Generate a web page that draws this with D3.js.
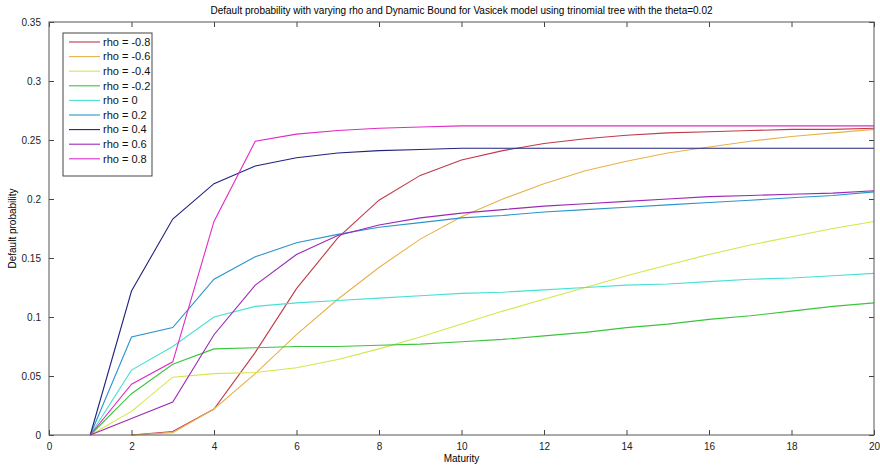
<!DOCTYPE html>
<html>
<head>
<meta charset="utf-8">
<script src="https://cdn.jsdelivr.net/npm/d3@7"></script>
<style>
  body { margin: 0; background: #fff; }
  text { font-family: "Liberation Sans", Arial, sans-serif; }
</style>
</head>
<body>
<script>
// ---- data ----
var maturity = d3.range(1, 21);
var rhoLabels = ["rho = -0.8", "rho = -0.6", "rho = -0.4", "rho = -0.2", "rho = 0",
                 "rho = 0.2", "rho = 0.4", "rho = 0.6", "rho = 0.8"];
var colors = ["#c03a48", "#e8b24a", "#d4e64a", "#3cc43c", "#48e0d4",
              "#2a94cc", "#22227e", "#9a2ab4", "#de2cc4"];

var rhoM08 = [null, 0, 0.003, 0.022, 0.070, 0.124, 0.167, 0.199, 0.220, 0.233, 0.241, 0.247, 0.251, 0.254, 0.256, 0.257, 0.258, 0.259, 0.259, 0.260];
var rhoM06 = [null, 0, 0.002, 0.022, 0.052, 0.085, 0.115, 0.142, 0.166, 0.185, 0.200, 0.213, 0.224, 0.232, 0.239, 0.244, 0.249, 0.253, 0.256, 0.259];
var rhoM04 = [0, 0.020, 0.049, 0.052, 0.053, 0.057, 0.064, 0.073, 0.083, 0.094, 0.105, 0.115, 0.125, 0.135, 0.144, 0.153, 0.161, 0.168, 0.175, 0.181];
var rhoM02 = [0, 0.035, 0.060, 0.073, 0.074, 0.075, 0.075, 0.076, 0.077, 0.079, 0.081, 0.084, 0.087, 0.091, 0.094, 0.098, 0.101, 0.105, 0.109, 0.112];
var rho0   = [0, 0.055, 0.075, 0.100, 0.109, 0.112, 0.114, 0.116, 0.118, 0.120, 0.121, 0.123, 0.125, 0.127, 0.128, 0.130, 0.132, 0.133, 0.135, 0.137];
var rhoP02 = [0, 0.083, 0.091, 0.132, 0.151, 0.163, 0.170, 0.176, 0.180, 0.184, 0.186, 0.189, 0.191, 0.193, 0.195, 0.197, 0.199, 0.201, 0.203, 0.206];
var rhoP04 = [0, 0.122, 0.183, 0.213, 0.228, 0.235, 0.239, 0.241, 0.242, 0.243, 0.243, 0.243, 0.243, 0.243, 0.243, 0.243, 0.243, 0.243, 0.243, 0.243];
var rhoP06 = [0, 0.014, 0.028, 0.085, 0.127, 0.153, 0.169, 0.178, 0.184, 0.188, 0.191, 0.194, 0.196, 0.198, 0.200, 0.202, 0.203, 0.204, 0.205, 0.207];
var rhoP08 = [0, 0.043, 0.062, 0.181, 0.249, 0.255, 0.258, 0.260, 0.261, 0.262, 0.262, 0.262, 0.262, 0.262, 0.262, 0.262, 0.262, 0.262, 0.262, 0.262];

var series = [rhoM08, rhoM06, rhoM04, rhoM02, rho0, rhoP02, rhoP04, rhoP06, rhoP08];
var xTicks = d3.range(0, 21, 2);
var yTicks = [0, 0.05, 0.1, 0.15, 0.2, 0.25, 0.3, 0.35];

// ---- layout ----
var margin = {top: 22, right: 6, bottom: 33, left: 49},
    width = 880 - margin.left - margin.right,
    height = 468 - margin.top - margin.bottom;

var svg = d3.select("body").append("svg")
    .attr("width", 880)
    .attr("height", 468);

var g = svg.append("g")
    .attr("transform", "translate(" + margin.left + "," + margin.top + ")");

var x = d3.scaleLinear().domain([0, 20]).range([0, width]);
var y = d3.scaleLinear().domain([0, 0.35]).range([height, 0]);

// lines
var line = d3.line()
    .defined(function(d) { return d != null; })
    .x(function(d, i) { return x(maturity[i]); })
    .y(function(d) { return y(d); });

g.selectAll(".series")
    .data(series)
    .enter().append("path")
    .attr("fill", "none")
    .attr("stroke", function(d, i) { return colors[i]; })
    .attr("stroke-width", 1.1)
    .attr("d", line);

// axes (box with inward ticks, matlab style)
var tickColor = "#444";
function styleAxis(sel) {
  sel.select(".domain").remove();
  sel.selectAll(".tick line").attr("stroke", tickColor);
  sel.selectAll(".tick text").attr("fill", "#222").style("font-size", "10px");
}

g.append("g")
    .attr("transform", "translate(0," + height + ")")
    .call(d3.axisBottom(x).tickValues(xTicks).tickSizeInner(-5).tickSizeOuter(0).tickPadding(8))
    .call(styleAxis);
g.append("g")
    .call(d3.axisTop(x).tickValues(xTicks).tickSizeInner(-5).tickSizeOuter(0).tickFormat(""))
    .call(styleAxis);
g.append("g")
    .call(d3.axisLeft(y).tickValues(yTicks).tickSizeInner(-5).tickSizeOuter(0).tickPadding(8)
      .tickFormat(function(d) { return d3.format("~g")(d); }))
    .call(styleAxis);
g.append("g")
    .attr("transform", "translate(" + width + ",0)")
    .call(d3.axisRight(y).tickValues(yTicks).tickSizeInner(-5).tickSizeOuter(0).tickFormat(""))
    .call(styleAxis);

g.append("rect")
    .attr("width", width)
    .attr("height", height)
    .attr("fill", "none")
    .attr("stroke", "#555")
    .attr("stroke-width", 1);

// title and labels
svg.append("text")
    .attr("x", margin.left + width / 2)
    .attr("y", 14)
    .attr("text-anchor", "middle")
    .style("font-size", "10px")
    .text("Default probability with varying rho and Dynamic Bound for Vasicek model using trinomial tree with the theta=0.02");

svg.append("text")
    .attr("x", margin.left + width / 2)
    .attr("y", 462)
    .attr("text-anchor", "middle")
    .style("font-size", "10px")
    .text("Maturity");

svg.append("text")
    .attr("transform", "translate(16," + (margin.top + height / 2) + ") rotate(-90)")
    .attr("text-anchor", "middle")
    .style("font-size", "10px")
    .text("Default probability");

// legend
var legend = g.append("g").attr("transform", "translate(14,11)");
legend.append("rect")
    .attr("width", 89)
    .attr("height", 143)
    .attr("fill", "#fff")
    .attr("stroke", "#444");

var items = legend.selectAll(".item")
    .data(rhoLabels)
    .enter().append("g")
    .attr("transform", function(d, i) { return "translate(0," + (9 + i * 14.6) + ")"; });

items.append("line")
    .attr("x1", 6).attr("x2", 37)
    .attr("stroke", function(d, i) { return colors[i]; })
    .attr("stroke-width", 1.1);

items.append("text")
    .attr("x", 40)
    .attr("dy", "0.35em")
    .style("font-size", "11px")
    .attr("fill", "#111")
    .text(function(d) { return d; });
</script>
</body>
</html>
